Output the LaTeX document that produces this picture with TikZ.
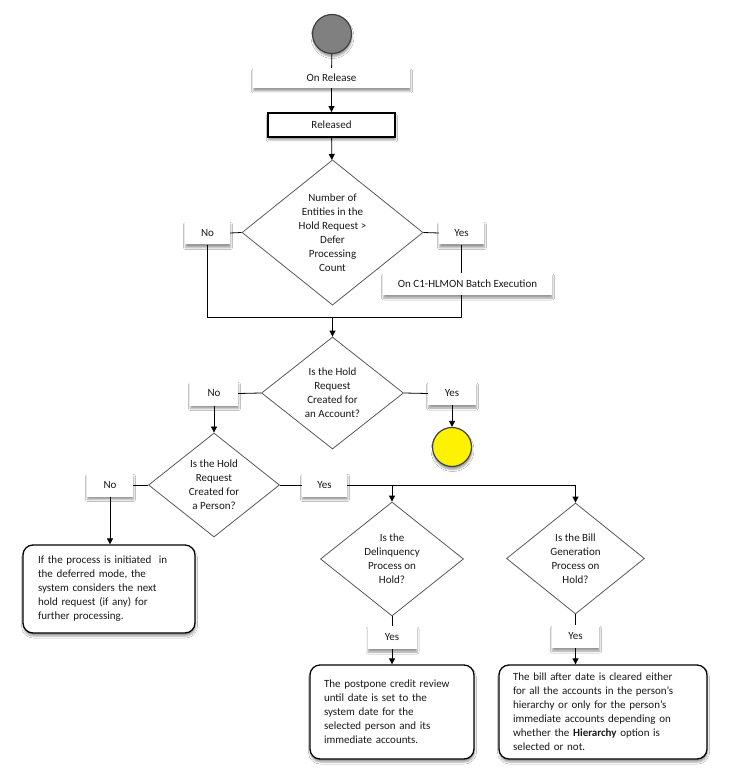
\documentclass[tikz,border=0pt]{standalone}
\usepackage{fontspec}
\setmainfont{Carlito}
\usetikzlibrary{shapes.geometric,arrows.meta,shadows.blur}
\begin{document}
\begin{tikzpicture}[x=1pt,y=-1pt,
  every node/.style={font=\fontsize{11}{14}\selectfont, text=black!90},
  conn/.style={draw=black, line width=0.8pt},
  arr/.style={conn, -{Triangle[length=6pt,width=6pt]}},
  shd/.style={blur shadow={shadow xshift=0.5pt, shadow yshift=-3pt, shadow blur radius=2pt, shadow opacity=40}},
  lbl/.style={shd, fill=white, inner sep=0pt, minimum height=23pt, minimum width=46pt},
  dia/.style={diamond, draw=black!65, line width=0.8pt, fill=white, inner sep=0pt, align=center},
  note/.style={shd, draw=black, line width=1.3pt, rounded corners=10pt, fill=white, align=left, inner sep=0pt},
  term/.style={circle, shd, draw=black!75, line width=1.2pt, minimum size=39pt, inner sep=0pt}
]
\useasboundingbox (0,0) rectangle (736,783);
\fill[white] (0,0) rectangle (736,783);

\node[term, fill=black!50] (start) at (332,34) {};
\node[lbl, minimum width=157pt, minimum height=20pt] (onrel) at (331.5,78) {On Release};
\node[shd, draw=black, line width=1.8pt, fill=white, minimum width=127pt, minimum height=24pt, inner sep=0pt] (rel) at (331.5,125) {Released};
\node[dia, minimum width=181pt, minimum height=145pt] (d1) at (332.5,232.5) {Number of\\Entities in the\\Hold Request >\\Defer\\Processing\\Count};
\node[lbl, minimum width=45pt] (no1) at (207.5,233) {No};
\node[lbl, minimum width=45pt] (yes1) at (461.5,233) {Yes};
\node[lbl, minimum width=169pt, minimum height=22pt] (c1) at (467.5,284) {On C1-HLMON Batch Execution};
\coordinate (j1) at (332.5,317);

\node[dia, minimum width=142pt, minimum height=112pt] (d2) at (332.5,393) {Is the Hold\\Request\\Created for\\an Account?};
\node[lbl, minimum width=48pt, minimum height=24pt] (no2) at (214,393.5) {No};
\node[lbl, minimum width=48pt] (yes2) at (452,393.5) {Yes};
\node[term, fill=yellow] (end) at (452,447) {};

\node[dia, minimum width=131pt, minimum height=104pt] (d3) at (214,485) {Is the Hold\\Request\\Created for\\a Person?};
\node[lbl] (no3) at (110,485) {No};
\node[lbl, minimum width=45pt] (yes3) at (324.5,485) {Yes};
\coordinate (j3a) at (392,485);
\coordinate (j3b) at (575.5,485);

\node[note, minimum width=172pt, minimum height=88pt, text width=142pt] (n1) at (109,589) {If the process is initiated\ \ in\\the deferred mode, the\\system considers the next\\hold request (if any) for\\further processing.};

\node[dia, minimum width=143pt, minimum height=114pt] (d4) at (392,559) {Is the\\Delinquency\\Process on\\Hold?};
\node[dia, minimum width=138pt, minimum height=111pt] (d5) at (575.5,558.5) {Is the Bill\\Generation\\Process on\\Hold?};
\node[lbl, minimum width=49pt] (yes4) at (392,637.5) {Yes};
\node[lbl, minimum width=47pt] (yes5) at (575.5,636.5) {Yes};

\node[note, minimum width=164pt, minimum height=94pt, text width=136pt] (n2) at (392,712) {The postpone credit review\\until date is set to the\\system date for the\\selected person and its\\immediate accounts.};
\node[note, minimum width=208pt, minimum height=94pt, text width=180pt] (n3) at (603,712) {The bill after date is cleared either\\for all the accounts in the person’s\\hierarchy or only for the person’s\\immediate accounts depending on\\whether the \textbf{Hierarchy} option is\\selected or not.};

% connectors
\draw[conn] (start) -- (onrel);
\draw[arr] (onrel) -- (rel);
\draw[arr] (rel) -- (d1);
\draw[conn] (d1.west) -- (no1.east);
\draw[conn] (d1.east) -- (yes1.west);
\draw[conn] (yes1.south) -- (yes1.south |- c1.north);
\draw[conn] (yes1.south |- c1.south) -- (yes1.south |- j1) -- (j1);
\draw[conn] (no1.south) -- (no1.south |- j1) -- (j1);
\draw[arr] (j1) -- (d2.north);
\draw[conn] (d2.west) -- (no2.east);
\draw[conn] (d2.east) -- (yes2.west);
\draw[arr] (yes2) -- (end);
\draw[arr] (no2) -- (d3);
\draw[conn] (d3.west) -- (no3.east);
\draw[conn] (d3.east) -- (yes3.west);
\draw[arr] (no3.south) -- (no3.south |- n1.north);
\draw[conn] (yes3.east) -- (j3b);
\draw[arr] (j3a) -- (d4.north);
\draw[arr] (j3b) -- (d5.north);
\draw[conn] (d4.south) -- (d4.south |- yes4.north);
\draw[arr] (yes4.south) -- (yes4.south |- n2.north);
\draw[conn] (d5.south) -- (d5.south |- yes5.north);
\draw[arr] (yes5.south) -- (yes5.south |- n3.north);
\end{tikzpicture}
\end{document}
